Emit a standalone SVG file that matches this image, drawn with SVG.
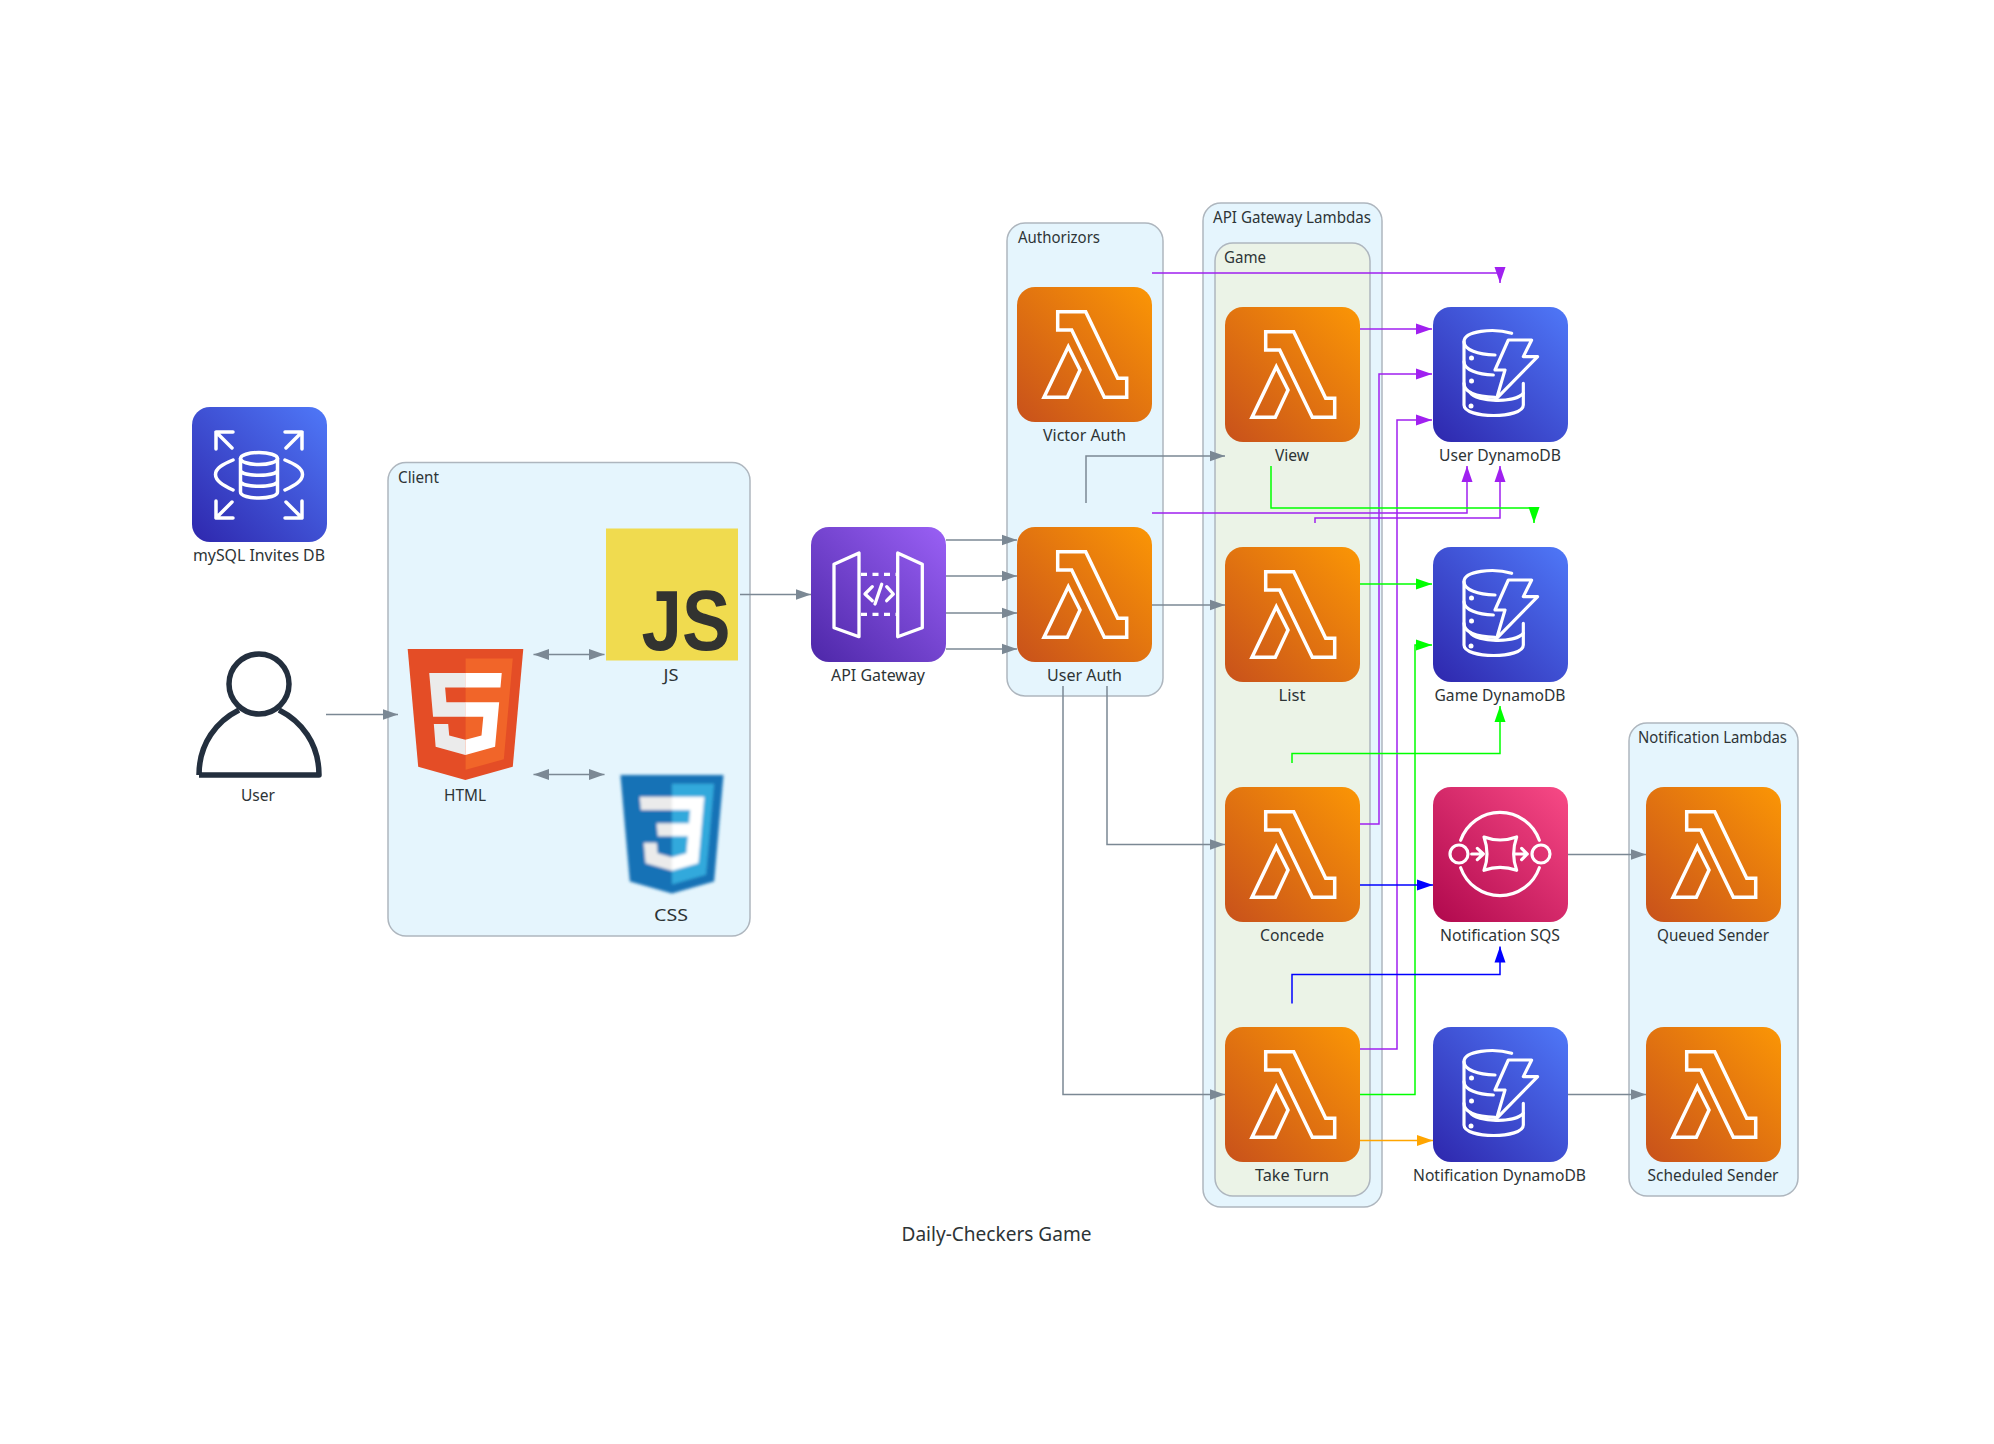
<svg xmlns="http://www.w3.org/2000/svg" xmlns:xlink="http://www.w3.org/1999/xlink" width="1994" height="1444" viewBox="0 0 1994 1444">
<style>
text{font-family:"Noto Sans","Open Sans","DejaVu Sans",sans-serif;font-size:16.5px;fill:#2D3436}
.lb{text-anchor:middle}
.cl{stroke:#AEB6BE;stroke-width:1.5;fill:#E5F5FD}
.e{fill:none;stroke-width:1.5}
.g{stroke:#7B8894;marker-end:url(#ag)}
.gb{stroke:#7B8894;marker-end:url(#ag);marker-start:url(#ags)}
.p{stroke:#A020F0;marker-end:url(#ap)}
.n{stroke:#00FF00;marker-end:url(#an)}
.b{stroke:#0000FF;marker-end:url(#ab)}
.o{stroke:#FFA500;marker-end:url(#ao)}
.ic{fill:none;stroke:#fff;stroke-linejoin:round;stroke-linecap:round}
</style>
<defs>
<linearGradient id="gl" x1="0" y1="1" x2="1" y2="0"><stop offset="0" stop-color="#C8511B"/><stop offset="1" stop-color="#FB9605"/></linearGradient>
<linearGradient id="gd" x1="0" y1="1" x2="1" y2="0"><stop offset="0" stop-color="#2E27AD"/><stop offset="1" stop-color="#4F78F8"/></linearGradient>
<linearGradient id="ga" x1="0" y1="1" x2="1" y2="0"><stop offset="0" stop-color="#4D27A8"/><stop offset="1" stop-color="#9A60F5"/></linearGradient>
<linearGradient id="gs" x1="0" y1="1" x2="1" y2="0"><stop offset="0" stop-color="#B0084D"/><stop offset="1" stop-color="#F84A86"/></linearGradient>
<filter id="bl" x="-10%" y="-10%" width="120%" height="120%"><feGaussianBlur stdDeviation="7"/></filter>
<marker id="ag" markerUnits="userSpaceOnUse" markerWidth="16" markerHeight="12" refX="15.5" refY="6" orient="auto"><path d="M0 .5L15.5 6L0 11.5Z" fill="#7B8894"/></marker>
<marker id="ags" markerUnits="userSpaceOnUse" markerWidth="16" markerHeight="12" refX="15.5" refY="6" orient="auto-start-reverse"><path d="M0 .5L15.5 6L0 11.5Z" fill="#7B8894"/></marker>
<marker id="ap" markerUnits="userSpaceOnUse" markerWidth="16" markerHeight="12" refX="16" refY="6" orient="auto"><path d="M0 .5L16 6L0 11.5Z" fill="#A020F0"/></marker>
<marker id="an" markerUnits="userSpaceOnUse" markerWidth="16" markerHeight="12" refX="16" refY="6" orient="auto"><path d="M0 .5L16 6L0 11.5Z" fill="#00FF00"/></marker>
<marker id="ab" markerUnits="userSpaceOnUse" markerWidth="16" markerHeight="12" refX="16" refY="6" orient="auto"><path d="M0 .5L16 6L0 11.5Z" fill="#0000FF"/></marker>
<marker id="ao" markerUnits="userSpaceOnUse" markerWidth="16" markerHeight="12" refX="16" refY="6" orient="auto"><path d="M0 .5L16 6L0 11.5Z" fill="#FFA500"/></marker>
<g id="lambda"><rect width="135" height="135" rx="18" fill="url(#gl)"/><g class="ic" stroke-width="3.5"><path stroke-linejoin="miter" d="M40.7 24.7H68.7L100.7 91.3H109.7V110.3H87.3L54.7 43H40.7Z"/><path stroke-linejoin="miter" d="M51.3 59.7L63 83L50.3 110.3H27Z"/></g></g>
<g id="ddb"><rect width="135" height="135" rx="18" fill="url(#gd)"/><g class="ic" stroke-width="9.5" transform="translate(7 8) scale(.3333)"><path d="M215 55C160 38 72 48 72 80C72 105 115 118 165 120"/><path d="M72 80V140C72 165 115 178 160 180"/><path d="M72 140V205C72 232 110 245 165 247"/><path d="M72 205V270C72 312 250 312 250 270V205"/><path d="M90 232C110 262 225 265 250 235"/><path d="M205 75H275L250 125H293L170 250L195 165H165Z"/></g><g fill="#fff"><circle cx="38.5" cy="51" r="2.5"/><circle cx="38.5" cy="74" r="2.5"/><circle cx="38" cy="99" r="2.5"/></g></g>
</defs>
<rect width="1994" height="1444" fill="#fff"/>
<g id="clusters">
<g id="cluster-client"><rect class="cl" x="388" y="462.5" width="362" height="473.5" rx="18"/><text x="398" y="483" textLength="41" lengthAdjust="spacingAndGlyphs">Client</text></g>
<g id="cluster-authorizors"><rect class="cl" x="1007" y="223" width="156" height="473" rx="18"/><text x="1018" y="243" textLength="82" lengthAdjust="spacingAndGlyphs">Authorizors</text></g>
<g id="cluster-api-lambdas"><rect class="cl" x="1203" y="203" width="179" height="1004" rx="18"/><text x="1213" y="223" textLength="158" lengthAdjust="spacingAndGlyphs">API Gateway Lambdas</text></g>
<g id="cluster-game"><rect class="cl" x="1215" y="243" width="155" height="953" rx="18" style="fill:#EBF3E7"/><text x="1224" y="263" textLength="42" lengthAdjust="spacingAndGlyphs">Game</text></g>
<g id="cluster-notification"><rect class="cl" x="1629" y="723" width="169" height="473" rx="18"/><text x="1638" y="743" textLength="149" lengthAdjust="spacingAndGlyphs">Notification Lambdas</text></g>
</g>
<g id="nodes">
<g id="mysql"><g transform="translate(192 407)"><rect width="135" height="135" rx="18" fill="url(#gd)"/><g class="ic" stroke-width="3.5" stroke-linecap="butt"><path d="M40 41L24 25M24 42V25H41M94 41L110 25M93 25H110V42M40 95L24 111M24 94V111H41M94 95L110 111M93 111H110V94"/><path d="M41 53C31 57 23.5 61 23.5 67.5C23.5 74 31 78 41 83M93 53C103 57 110.5 61 110.5 67.5C110.5 74 103 78 93 83"/><ellipse cx="67" cy="51.5" rx="18.5" ry="6"/><path d="M48.5 51.5V85C48.5 93 85.5 93 85.5 85V51.5M48.5 63C48.5 70 85.5 70 85.5 63M48.5 74C48.5 81 85.5 81 85.5 74"/></g></g><text class="lb" x="259" y="561" textLength="132" lengthAdjust="spacingAndGlyphs">mySQL Invites DB</text></g>
<g id="user"><circle cx="259" cy="684" r="30" fill="none" stroke="#232F3E" stroke-width="5.5"/><path d="M199 775H319C319 743 301 721 279 710M239 710C217 721 199 743 199 775" fill="none" stroke="#232F3E" stroke-width="5.5" stroke-linejoin="round"/><text class="lb" x="258" y="800.5" textLength="34" lengthAdjust="spacingAndGlyphs">User</text></g>
<g id="html"><g transform="translate(400 649) scale(.2563 .2559)"><path d="M71 460L30 0H481L440 460L255 512Z" fill="#E44D26"/><path d="M256 472L405 431L440 37H256Z" fill="#F16529"/><path d="M256 208H181L176 150H256V94H114L129 265H256ZM255 355L192 338L188 293H132L139 382L255 414Z" fill="#EBEBEB"/><path d="M255 208V265H325L318 338L255 355V414L371 382L387 208ZM255 94V150H392L397 94Z" fill="#fff"/></g><text class="lb" x="465" y="801" textLength="42" lengthAdjust="spacingAndGlyphs">HTML</text></g>
<g id="js"><rect x="606" y="528.5" width="132" height="132" fill="#F0DB4F"/><text x="641.5" y="649.5" textLength="89" lengthAdjust="spacingAndGlyphs" style="font-family:'Liberation Sans',sans-serif;font-weight:700;font-size:86px;fill:#323330">JS</text><text class="lb" x="671" y="680.5" textLength="15" lengthAdjust="spacingAndGlyphs">JS</text></g>
<g id="css"><g filter="url(#bl)" transform="translate(613.5 775) scale(.2284 .2313)"><path d="M71.357 460.819L30.272 0H481.728L440.599 460.746L255.724 512Z" fill="#1572B6"/><path d="M256 472.96L405.2 431.592L440.3 38.272H256Z" fill="#33A9DC"/><path d="M256 208.61H330.686L335.84 150.814H256V94.375H397.469L396.114 109.517L382.254 265.049H256Z" fill="#fff"/><path d="M256.34 355.205L256.092 355.275L193.235 338.301L189.217 293.288H132.577L140.483 381.906L256.093 414L256.351 413.928Z" fill="#EBEBEB"/><path d="M325.9 262.668L319.104 338.238L256.164 355.226V413.946L371.864 381.881L372.712 372.346L382.53 262.668Z" fill="#fff"/><path d="M256.195 94.375V150.815H119.88L118.748 138.129L116.176 109.517L114.828 94.375Z" fill="#EBEBEB"/><path d="M256 208.61V265.05H193.938L192.808 252.365L190.234 223.752L188.887 208.61Z" fill="#EBEBEB"/></g><text class="lb" x="671" y="921" textLength="34" lengthAdjust="spacingAndGlyphs">CSS</text></g>
<g id="api-gateway"><g transform="translate(811 527)"><rect width="135" height="135" rx="18" fill="url(#ga)"/><g class="ic" stroke-width="3.3"><path d="M23 37.3L48 26V109.7L23 100.7ZM86.7 26L111.3 37.3V100.7L86.7 109.7Z"/><path stroke-dasharray="6 5.5" stroke-linecap="butt" d="M50 47.3H86M50 87.3H86"/><path d="M61.3 59.7L54 67L61.3 73.7M75.7 59.7L82.3 67L75.7 73.7M70.7 57.3L64 77"/></g></g><text class="lb" x="878" y="681" textLength="94" lengthAdjust="spacingAndGlyphs">API Gateway</text></g>
<g id="victor-auth"><use xlink:href="#lambda" x="1017" y="287"/><text class="lb" x="1084.5" y="441" textLength="83" lengthAdjust="spacingAndGlyphs">Victor Auth</text></g>
<g id="user-auth"><use xlink:href="#lambda" x="1017" y="527"/><text class="lb" x="1084.5" y="681" textLength="75" lengthAdjust="spacingAndGlyphs">User Auth</text></g>
<g id="view"><use xlink:href="#lambda" x="1225" y="307"/><text class="lb" x="1292" y="461" textLength="34" lengthAdjust="spacingAndGlyphs">View</text></g>
<g id="list"><use xlink:href="#lambda" x="1225" y="547"/><text class="lb" x="1292" y="701" textLength="27" lengthAdjust="spacingAndGlyphs">List</text></g>
<g id="concede"><use xlink:href="#lambda" x="1225" y="787"/><text class="lb" x="1292" y="941" textLength="64" lengthAdjust="spacingAndGlyphs">Concede</text></g>
<g id="take-turn"><use xlink:href="#lambda" x="1225" y="1027"/><text class="lb" x="1292" y="1181" textLength="74" lengthAdjust="spacingAndGlyphs">Take Turn</text></g>
<g id="user-dynamodb"><use xlink:href="#ddb" x="1433" y="307"/><text class="lb" x="1500" y="461" textLength="122" lengthAdjust="spacingAndGlyphs">User DynamoDB</text></g>
<g id="game-dynamodb"><use xlink:href="#ddb" x="1433" y="547"/><text class="lb" x="1500" y="701" textLength="131" lengthAdjust="spacingAndGlyphs">Game DynamoDB</text></g>
<g id="notification-sqs"><g transform="translate(1433 787)"><rect width="135" height="135" rx="18" fill="url(#gs)"/><g class="ic" stroke-width="9.5" transform="translate(7 12) scale(.3333)"><circle cx="57" cy="165" r="27"/><circle cx="303" cy="165" r="27"/><path d="M62 124A125 125 0 0 1 298 124M62 206A125 125 0 0 0 298 206"/><path d="M132 114Q180 132 230 114Q212 165 230 214Q180 196 132 214Q150 165 132 114Z"/><path d="M95 165H130M112 148L130 165L112 182M225 165H262M245 148L262 165L245 182"/></g></g><text class="lb" x="1500" y="941" textLength="120" lengthAdjust="spacingAndGlyphs">Notification SQS</text></g>
<g id="notification-dynamodb"><use xlink:href="#ddb" x="1433" y="1027"/><text class="lb" x="1499.5" y="1181" textLength="173" lengthAdjust="spacingAndGlyphs">Notification DynamoDB</text></g>
<g id="queued-sender"><use xlink:href="#lambda" x="1646" y="787"/><text class="lb" x="1713" y="941" textLength="112" lengthAdjust="spacingAndGlyphs">Queued Sender</text></g>
<g id="scheduled-sender"><use xlink:href="#lambda" x="1646" y="1027"/><text class="lb" x="1713" y="1181" textLength="131" lengthAdjust="spacingAndGlyphs">Scheduled Sender</text></g>
</g>
<g id="connectors">
<path class="e g" d="M326 714.5H398"/>
<path class="e gb" d="M533.5 654.5H604.5"/>
<path class="e gb" d="M533.5 774.5H604.5"/>
<path class="e g" d="M740 594.5H811"/>
<path class="e g" d="M946 540H1017"/>
<path class="e g" d="M946 576H1017"/>
<path class="e g" d="M946 613H1017"/>
<path class="e g" d="M946 649H1017"/>
<path class="e g" d="M1086 503V456H1225"/>
<path class="e g" d="M1152 605H1225"/>
<path class="e g" d="M1107 686V844.5H1225"/>
<path class="e g" d="M1063 686V1094.5H1225"/>
<path class="e g" d="M1568 854.5H1646"/>
<path class="e g" d="M1568 1094.5H1646"/>
<path class="e p" d="M1152 273H1500V283"/>
<path class="e p" d="M1360 329H1432"/>
<path class="e p" d="M1360 824H1379V374H1432"/>
<path class="e p" d="M1360 1049H1397V420H1432"/>
<path class="e p" d="M1152 513H1467V466"/>
<path class="e p" d="M1315 523V518H1500V466"/>
<path class="e n" d="M1271 466V508H1534V523"/>
<path class="e n" d="M1360 584H1432"/>
<path class="e n" d="M1360 1094.5H1415V645H1432"/>
<path class="e n" d="M1292 763V753.5H1500V706"/>
<path class="e b" d="M1360 885H1433"/>
<path class="e b" d="M1292 1003.5V974.5H1500V946.5"/>
<path class="e o" d="M1360 1140.5H1433"/>
</g>
<g id="title"><text class="lb" x="996.5" y="1241" textLength="190" lengthAdjust="spacingAndGlyphs" style="font-size:19.5px">Daily-Checkers Game</text></g>
</svg>
